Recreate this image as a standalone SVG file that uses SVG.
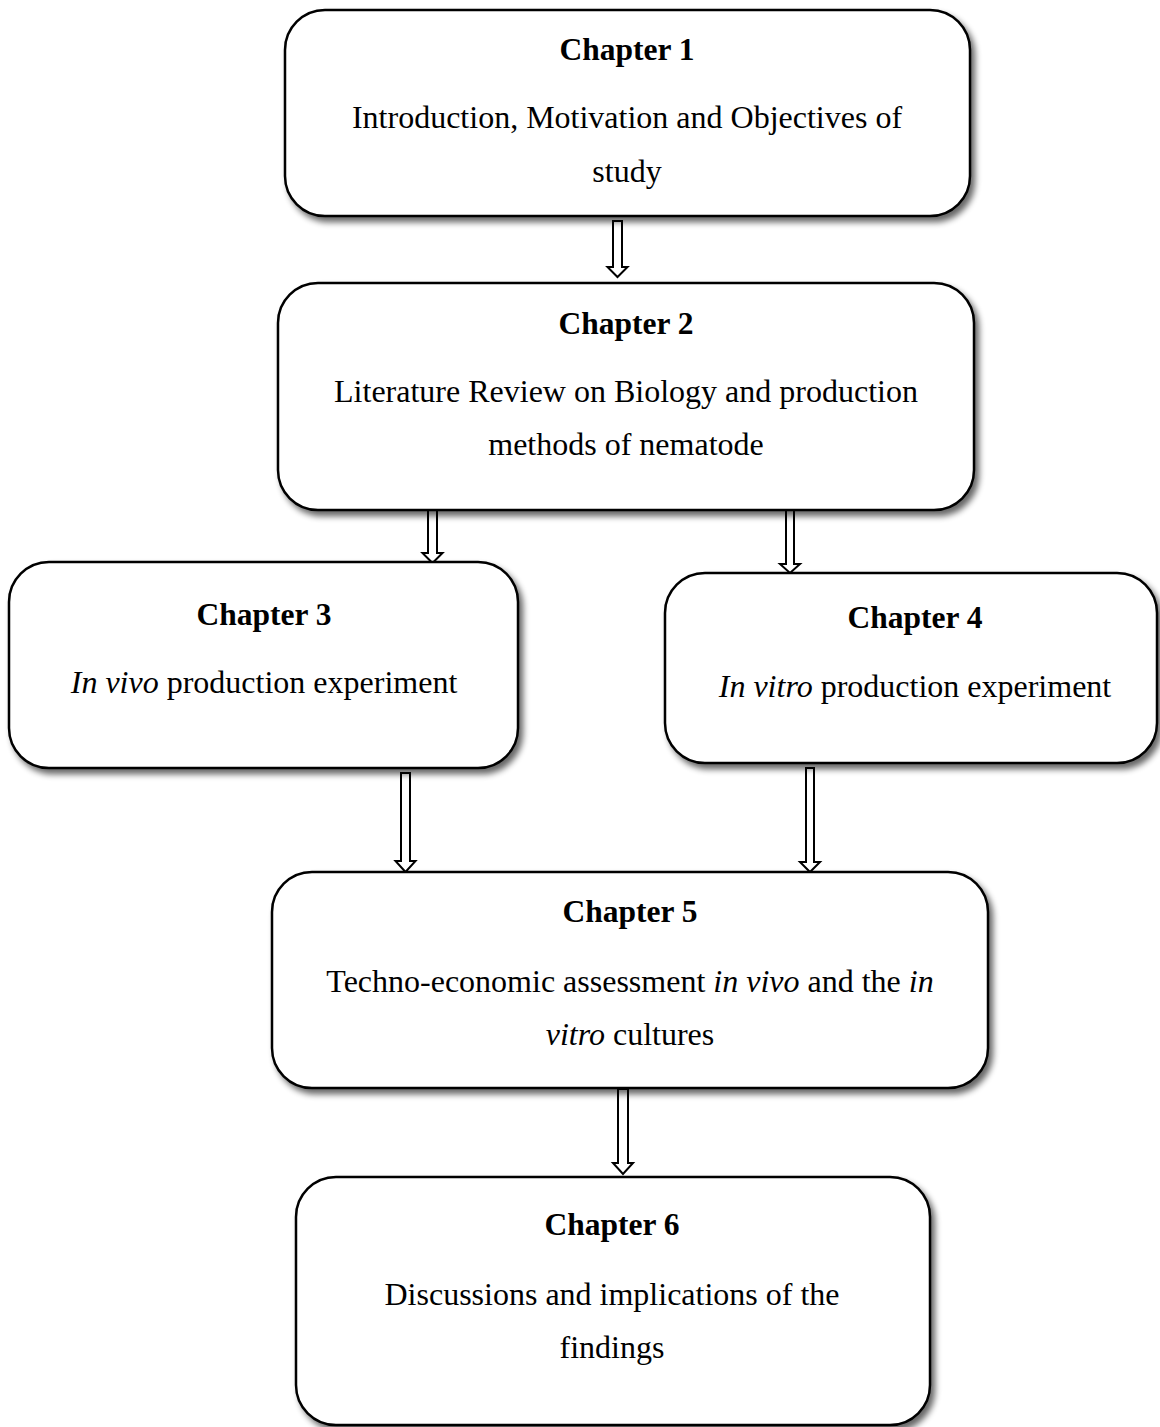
<svg xmlns="http://www.w3.org/2000/svg" width="1160" height="1427" viewBox="0 0 1160 1427">
<style>
.box{fill:#fff;stroke:#000;stroke-width:2.5;filter:url(#sh)}
.h{font-family:"Liberation Serif","Times New Roman",serif;font-weight:bold;font-size:31.5px;text-anchor:middle;fill:#000}
.t{font-family:"Liberation Serif","Times New Roman",serif;font-size:32px;text-anchor:middle;fill:#000}
.arr{fill:#fff;stroke:#000;stroke-width:2;stroke-linejoin:miter}
</style>
<defs>
<filter id="sh" x="-5%" y="-5%" width="115%" height="120%">
<feGaussianBlur in="SourceAlpha" stdDeviation="3"/>
<feOffset dx="4" dy="5" result="b"/>
<feComponentTransfer><feFuncA type="linear" slope="0.6"/></feComponentTransfer>
<feMerge><feMergeNode/><feMergeNode in="SourceGraphic"/></feMerge>
</filter>
</defs>
<rect width="1160" height="1427" fill="#fff"/>
<g id="connectors">
<polygon class="arr" points="613,221 622,221 622,267 627.5,267 617.5,277 607.5,267 613,267"/>
<polygon class="arr" points="428,510 437,510 437,553 442.5,553 432.5,563 422.5,553 428,553"/>
<polygon class="arr" points="786,510 794,510 794,564 800,564 790,573 780,564 786,564"/>
<polygon class="arr" points="401,773 410,773 410,861 415.5,861 405.5,872 395.5,861 401,861"/>
<polygon class="arr" points="806,768 814,768 814,862 820,862 810,872 800,862 806,862"/>
<polygon class="arr" points="618,1089 628,1089 628,1163 633,1163 623,1174 613,1163 618,1163"/>
</g>
<g id="ch1">
<rect class="box" x="285" y="10" width="685" height="206" rx="40"/>
<text class="h" x="627" y="60">Chapter 1</text>
<text class="t" x="627" y="128">Introduction, Motivation and Objectives of</text>
<text class="t" x="627" y="182">study</text>
</g>
<g id="ch2">
<rect class="box" x="278" y="283" width="696" height="227" rx="40"/>
<text class="h" x="626" y="334">Chapter 2</text>
<text class="t" x="626" y="402">Literature Review on Biology and production</text>
<text class="t" x="626" y="455">methods of nematode</text>
</g>
<g id="ch3">
<rect class="box" x="9" y="562" width="509" height="206" rx="40"/>
<text class="h" x="264" y="625">Chapter 3</text>
<text class="t" x="264" y="693"><tspan font-style="italic">In vivo</tspan> production experiment</text>
</g>
<g id="ch4">
<rect class="box" x="665" y="573" width="492" height="190" rx="40"/>
<text class="h" x="915" y="628">Chapter 4</text>
<text class="t" x="915" y="697"><tspan font-style="italic">In vitro</tspan> production experiment</text>
</g>
<g id="ch5">
<rect class="box" x="272" y="872" width="716" height="216" rx="40"/>
<text class="h" x="630" y="922">Chapter 5</text>
<text class="t" x="630" y="992">Techno-economic assessment <tspan font-style="italic">in vivo</tspan> and the <tspan font-style="italic">in</tspan></text>
<text class="t" x="630" y="1045"><tspan font-style="italic">vitro</tspan> cultures</text>
</g>
<g id="ch6">
<rect class="box" x="296" y="1177" width="634" height="248" rx="40"/>
<text class="h" x="612" y="1235">Chapter 6</text>
<text class="t" x="612" y="1305">Discussions and implications of the</text>
<text class="t" x="612" y="1358">findings</text>
</g>
</svg>
